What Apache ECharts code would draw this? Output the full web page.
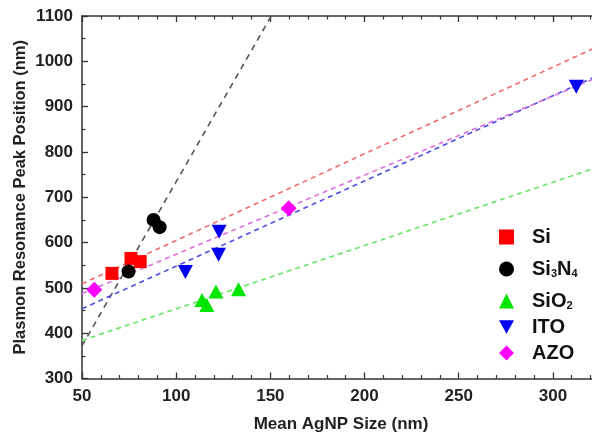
<!DOCTYPE html>
<html>
<head>
<meta charset="utf-8">
<script src="https://cdn.jsdelivr.net/npm/echarts@6/dist/echarts.min.js"></script>
<style>html,body{margin:0;padding:0;background:#fff;}#c{width:592px;height:439px;}</style>
</head>
<body>
<div id="c"></div>
<script>
// Measured points [size (nm), peak (nm)]
var siData    = [[65.9,532],[76.0,565],[80.9,558]];
var si3n4Data = [[74.7,536],[88.0,650],[91.2,634]];
var sio2Data  = [[113.7,473],[116.3,462],[121.1,492],[133.1,497]];
var itoData   = [[104.9,535],[122.8,624],[122.5,573],[312.4,944]];
var azoData   = [[56.5,496],[159.7,676]];
// Linear fit lines, endpoints
var fitSi    = [[50,509],[325,1035]];
var fitSi3n4 = [[50,372],[160,1169]];
var fitSio2  = [[50,384],[325,768]];
var fitIto   = [[50,454],[325,971]];
var fitAzo   = [[50,487],[325,967]];
var legendNames = ['Si','Si3N4','SiO2','ITO','AZO'];

var FONT = '"Liberation Sans", Arial, sans-serif';
var axisColor = '#333';
function plain(v){ return String(v); }
function fit(data, color, dash){
  return {type:'line', data:data, symbol:'none', silent:true, z:1,
    lineStyle:{color:color, width:1.6, type:dash||[5,4]}, legendHoverLink:false};
}
var chart = echarts.init(document.getElementById('c'));
chart.setOption({
  animation:false,
  backgroundColor:'#fff',
  grid:{left:82, right:-8, top:16, bottom:60.5, containLabel:false, outerBoundsMode:'none'},
  xAxis:[{
    type:'value', min:50, max:325, interval:50,
    name:'Mean AgNP Size (nm)', nameLocation:'middle', nameGap:37, nameMoveOverlap:false,
    nameTextStyle:{fontFamily:FONT, fontSize:17, fontWeight:'bold', color:'#222'},
    axisLine:{show:true, lineStyle:{color:axisColor, width:1.5}},
    axisTick:{show:true, inside:true, length:6, lineStyle:{color:axisColor, width:1.3}},
    minorTick:{show:true, splitNumber:5, length:3.5, lineStyle:{color:axisColor, width:1.2}},
    splitLine:{show:false}, minorSplitLine:{show:false},
    axisLabel:{fontFamily:FONT, fontSize:17, fontWeight:'bold', color:'#222', margin:9, showMaxLabel:false, formatter:plain}
  },{
    type:'value', position:'top', min:50, max:325, interval:50,
    axisLine:{show:true, onZero:false, lineStyle:{color:axisColor, width:1.5}},
    axisTick:{show:true, inside:true, length:6, lineStyle:{color:axisColor, width:1.3}},
    minorTick:{show:true, splitNumber:5, length:3.5, lineStyle:{color:axisColor, width:1.2}},
    splitLine:{show:false}, axisLabel:{show:false}
  }],
  yAxis:[{
    type:'value', min:300, max:1100, interval:100,
    name:'Plasmon Resonance Peak Position (nm)', nameLocation:'middle', nameGap:53, nameMoveOverlap:false,
    nameTextStyle:{fontFamily:FONT, fontSize:16.5, fontWeight:'bold', color:'#222'},
    axisLine:{show:true, lineStyle:{color:axisColor, width:1.5}},
    axisTick:{show:true, inside:true, length:6, lineStyle:{color:axisColor, width:1.3}},
    minorTick:{show:true, splitNumber:2, length:3.5, lineStyle:{color:axisColor, width:1.2}},
    splitLine:{show:false}, minorSplitLine:{show:false},
    axisLabel:{fontFamily:FONT, fontSize:17, fontWeight:'bold', color:'#222', margin:9, formatter:plain}
  }],
  legend:{
    orient:'vertical', left:494, top:222, itemGap:6, itemWidth:15, itemHeight:15,
    data:legendNames,
    textStyle:{fontFamily:FONT, fontSize:20, fontWeight:'bold', color:'#111', lineHeight:20, padding:[0,0,0,13],
      rich:{
        m:{fontFamily:FONT, fontSize:20, fontWeight:'bold', color:'#111', lineHeight:20},
        s:{fontFamily:FONT, fontSize:11, fontWeight:'bold', color:'#111', lineHeight:11, verticalAlign:'bottom', padding:[15,0,0,0]}
      }},
    formatter:function(n){
      if(n==='Si3N4') return '{m|Si}{s|3}{m|N}{s|4}';
      if(n==='SiO2') return '{m|SiO}{s|2}';
      return '{m|'+n+'}';
    }
  },
  series:[
    fit(fitSi, '#f26b6b'),
    fit(fitSi3n4, '#555555', [6,5]),
    fit(fitSio2, '#66e466'),
    fit(fitIto, '#4c4ce6'),
    fit(fitAzo, '#dd6ee0'),
    {type:'scatter', name:'Si', data:siData, symbol:'rect', symbolSize:13, z:3, itemStyle:{color:'#ff0000', opacity:1}},
    {type:'scatter', name:'Si3N4', data:si3n4Data, symbol:'circle', symbolSize:14, z:3, itemStyle:{color:'#000000', opacity:1}},
    {type:'scatter', name:'SiO2', data:sio2Data, symbol:'triangle', symbolSize:[15,14], z:3, itemStyle:{color:'#00e600', opacity:1}},
    {type:'scatter', name:'ITO', data:itoData, symbol:'path://M0,0 L10,0 L5,9 Z', symbolSize:[15,14], z:3, itemStyle:{color:'#0000f0', opacity:1}},
    {type:'scatter', name:'AZO', data:azoData, symbol:'diamond', symbolSize:16, z:3, itemStyle:{color:'#ff00ff', opacity:1}}
  ]
});
</script>
</body>
</html>
